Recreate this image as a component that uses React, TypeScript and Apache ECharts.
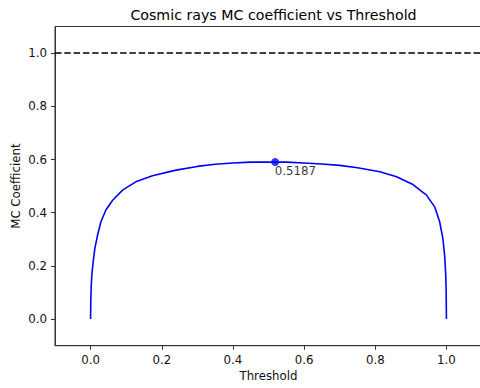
import React, { useEffect, useRef } from "react";
import * as echarts from "echarts";

const thresholds = [
  0, 0.0005, 0.001, 0.002, 0.004, 0.0073, 0.012, 0.0197, 0.029, 0.043, 0.062, 0.09, 0.127, 0.174, 0.24,
  0.3, 0.35, 0.4, 0.45, 0.5187, 0.55, 0.6, 0.65, 0.7, 0.75, 0.813, 0.86, 0.906, 0.944, 0.967, 0.981,
  0.99, 0.995, 0.998, 0.999, 0.9995, 1.0,
];
const mcValues = [
  0, 0.06, 0.09, 0.13, 0.175, 0.215, 0.266, 0.316, 0.366, 0.41, 0.447, 0.485, 0.516, 0.539, 0.56,
  0.574, 0.582, 0.587, 0.59, 0.5905, 0.59, 0.587, 0.583, 0.578, 0.569, 0.554, 0.535, 0.506, 0.466, 0.422, 0.366,
  0.303, 0.24, 0.17, 0.12, 0.08, 0,
];
const bestThreshold = 0.5187;
const bestValue = 0.5905;
const referenceLevel = 1.0;
const tickValues = [0, 0.2, 0.4, 0.6, 0.8, 1.0];

export default function App() {
  const ref = useRef<HTMLDivElement>(null);
  useEffect(() => {
    if (!ref.current) return;
    const chart = echarts.init(ref.current, undefined, { renderer: "svg" });
    const font = "DejaVu Sans";
    const axisCommon = {
      type: "value" as const,
      min: -0.1,
      max: 1.1,
      splitLine: { show: false },
      axisLine: { show: true, onZero: false, lineStyle: { color: "#333", width: 1 } },
      axisTick: { show: true, length: 4, customValues: tickValues, lineStyle: { color: "#333", width: 1 } },
      axisLabel: {
        customValues: tickValues,
        formatter: (v: number) => v.toFixed(1),
        color: "#111",
        fontFamily: font,
        fontSize: 11.8,
        margin: 8,
      },
      nameLocation: "middle" as const,
      nameMoveOverlap: false,
      nameTextStyle: { color: "#111", fontFamily: font, fontSize: 11.8 },
    };
    chart.setOption({
      animation: false,
      backgroundColor: "#fff",
      title: {
        text: "Cosmic rays MC coefficient vs Threshold",
        left: 268.5,
        textAlign: "center",
        top: 3,
        textStyle: { fontFamily: font, fontSize: 14.2, fontWeight: "normal", color: "#000" },
      },
      grid: {
        left: 55,
        top: 26.5,
        width: 427,
        height: 319.2,
        show: true,
        borderColor: "#333",
        borderWidth: 1,
        backgroundColor: "transparent",
        outerBoundsMode: "none",
        containLabel: false,
      },
      xAxis: { ...axisCommon, name: "Threshold", nameGap: 24.5 },
      yAxis: { ...axisCommon, name: "MC Coefficient", nameGap: 33 },
      series: [
        {
          type: "line",
          data: thresholds.map((t, i) => [t, mcValues[i]]),
          showSymbol: false,
          symbol: "none",
          lineStyle: { color: "#0000ff", width: 1.6 },
          z: 2,
          markLine: {
            silent: true,
            symbol: "none",
            label: { show: false },
            lineStyle: { color: "#000", type: [6.5, 2.8], width: 1.6 },
            data: [{ yAxis: referenceLevel }],
          },
        },
        {
          type: "scatter",
          data: [[bestThreshold, bestValue]],
          symbol: "circle",
          symbolSize: 8,
          itemStyle: { color: "#0000ff" },
          z: 3,
          label: {
            show: true,
            formatter: () => bestThreshold.toFixed(4),
            position: [3.5, 7],
            align: "left",
            verticalAlign: "top",
            color: "#000",
            fontFamily: font,
            fontSize: 11.8,
          },
        },
      ],
    });
    return () => chart.dispose();
  }, []);
  return <div ref={ref} style={{ width: 480, height: 388, position: "absolute", left: 0, top: 0 }} />;
}
